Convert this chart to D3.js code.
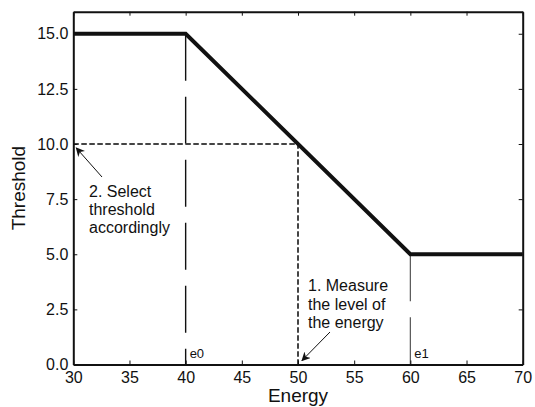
<!DOCTYPE html>
<html>
<head>
<meta charset="utf-8">
<script src="https://cdn.jsdelivr.net/npm/d3@7"></script>
<style>
  body { margin: 0; background: #fff; }
  svg { display: block; font-family: "Liberation Sans", Arial, sans-serif; }
</style>
</head>
<body>
<script>
// threshold curve
const energy = [30, 40, 60, 70];
const threshold = [15, 15, 5, 5];

// axis ticks
const xTicks = [30, 35, 40, 45, 50, 55, 60, 65, 70];
const yTicks = [0, 2.5, 5, 7.5, 10, 12.5, 15];

// e0 / e1 break points
const breakLabels = ['e0', 'e1'];
const breakEnergy = [40, 60];
const breakThreshold = [15, 5];

// measured point
const measuredEnergy = 50;
const selectedThreshold = 10;

// annotations
const selectText = ['2. Select', 'threshold', 'accordingly'];
const measureText = ['1. Measure', 'the level of', 'the energy'];

const width = 535;
const height = 407;
const margin = { top: 11.7, right: 12.3, bottom: 42.5, left: 73.3 };

const x = d3.scaleLinear().domain([30, 70]).range([margin.left, width - margin.right]);
const y = d3.scaleLinear().domain([0, 16]).range([height - margin.bottom, margin.top]);

const svg = d3.select('body')
  .append('svg')
  .attr('width', width)
  .attr('height', height)
  .attr('viewBox', [0, 0, width, height]);

const defs = svg.append('defs');
defs.append('marker')
  .attr('id', 'arrow')
  .attr('viewBox', '0 0 10 10')
  .attr('refX', 9)
  .attr('refY', 5)
  .attr('markerWidth', 9)
  .attr('markerHeight', 9)
  .attr('markerUnits', 'userSpaceOnUse')
  .attr('orient', 'auto')
  .append('path')
  .attr('d', 'M0,0L10,5L0,10L3,5Z')
  .attr('fill', '#111');

// break point verticals
svg.append('g')
  .selectAll('line')
  .data(breakEnergy)
  .join('line')
  .attr('x1', d => x(d))
  .attr('x2', d => x(d))
  .attr('y1', (d, i) => y(breakThreshold[i]))
  .attr('y2', y(0))
  .attr('stroke', (d, i) => i === 0 ? '#111' : '#555')
  .attr('stroke-width', (d, i) => i === 0 ? 1.4 : 1.2)
  .attr('stroke-dasharray', '47,16');

svg.append('g')
  .style('font-size', '13px')
  .attr('fill', '#111')
  .selectAll('text')
  .data(breakLabels)
  .join('text')
  .attr('x', (d, i) => x(breakEnergy[i]) + 4)
  .attr('y', y(0) - 7)
  .text(d => d);

// measured guide lines
const guide = [[30, selectedThreshold], [measuredEnergy, selectedThreshold], [measuredEnergy, 0]];
svg.append('path')
  .attr('d', d3.line().x(d => x(d[0])).y(d => y(d[1]))(guide))
  .attr('fill', 'none')
  .attr('stroke', '#444')
  .attr('stroke-width', 2)
  .attr('stroke-dasharray', '5.5,2.5');

// threshold curve
svg.append('path')
  .datum(energy.map((e, i) => [e, threshold[i]]))
  .attr('d', d3.line().x(d => x(d[0])).y(d => y(d[1])))
  .attr('fill', 'none')
  .attr('stroke', '#111')
  .attr('stroke-width', 4)
  .attr('stroke-linejoin', 'miter');

// axes
const tickFont = g => g.selectAll('text').style('font-size', '16px').attr('fill', '#111');
const lineStyle = g => {
  g.select('.domain').attr('stroke', '#111').attr('stroke-width', 2);
  g.selectAll('.tick line').attr('stroke', '#111').attr('stroke-width', 1);
};

svg.append('g')
  .attr('transform', `translate(0,${y(0)})`)
  .call(d3.axisBottom(x).tickValues(xTicks).tickSize(-4).tickPadding(7).tickSizeOuter(0))
  .call(lineStyle)
  .call(tickFont)
  .attr('font-family', null);

svg.append('g')
  .attr('transform', `translate(${x(30)},0)`)
  .call(d3.axisLeft(y).tickValues(yTicks).tickFormat(d3.format('.1f')).tickSize(-4).tickPadding(5).tickSizeOuter(0))
  .call(lineStyle)
  .call(tickFont)
  .attr('font-family', null);

svg.append('g')
  .attr('transform', `translate(0,${margin.top})`)
  .call(d3.axisTop(x).tickValues(xTicks).tickFormat('').tickSize(-4).tickSizeOuter(0))
  .call(lineStyle);

svg.append('g')
  .attr('transform', `translate(${width - margin.right},0)`)
  .call(d3.axisRight(y).tickValues(yTicks).tickFormat('').tickSize(-4).tickSizeOuter(0))
  .call(lineStyle);

// axis titles
svg.append('text')
  .attr('x', x(50))
  .attr('y', 402)
  .attr('text-anchor', 'middle')
  .style('font-size', '19px')
  .attr('fill', '#111')
  .text('Energy');

svg.append('text')
  .attr('transform', `translate(25,${(y(0) + y(16)) / 2}) rotate(-90)`)
  .attr('text-anchor', 'middle')
  .style('font-size', '19px')
  .attr('fill', '#111')
  .text('Threshold');

// annotations
svg.append('text')
  .attr('x', 89)
  .attr('y', 197)
  .style('font-size', '16px')
  .attr('fill', '#111')
  .selectAll('tspan')
  .data(selectText)
  .join('tspan')
  .attr('x', 89)
  .attr('dy', (d, i) => i === 0 ? 0 : 18)
  .text(d => d);

svg.append('text')
  .attr('x', 308)
  .attr('y', 291)
  .style('font-size', '16px')
  .attr('fill', '#111')
  .selectAll('tspan')
  .data(measureText)
  .join('tspan')
  .attr('x', 308)
  .attr('dy', (d, i) => i === 0 ? 0 : 18.5)
  .text(d => d);

svg.append('line')
  .attr('x1', 102).attr('y1', 177)
  .attr('x2', x(30) + 3).attr('y2', y(selectedThreshold) + 4)
  .attr('stroke', '#111').attr('stroke-width', 1)
  .attr('marker-end', 'url(#arrow)');

svg.append('line')
  .attr('x1', 330).attr('y1', 332)
  .attr('x2', x(measuredEnergy) + 4).attr('y2', y(0) - 4)
  .attr('stroke', '#111').attr('stroke-width', 1)
  .attr('marker-end', 'url(#arrow)');
</script>
</body>
</html>
